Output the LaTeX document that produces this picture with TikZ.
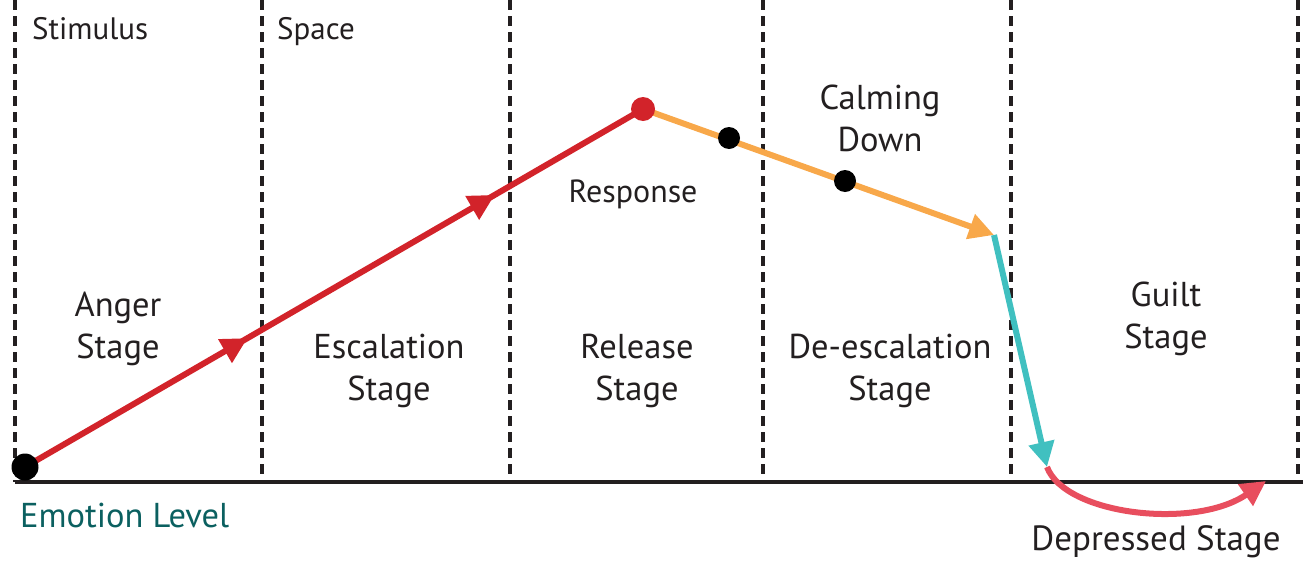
\documentclass[tikz,border=0pt]{standalone}
\usepackage{fontspec}
\setmainfont{PT Sans}
\usetikzlibrary{arrows.meta,decorations.markings}
\definecolor{cred}{HTML}{D2232A}
\definecolor{corange}{HTML}{F8A84A}
\definecolor{cteal}{HTML}{40C0C0}
\definecolor{cpink}{HTML}{E84E5E}
\definecolor{ink}{HTML}{231F20}
\definecolor{emo}{HTML}{0B6060}
\begin{document}
\begin{tikzpicture}[x=1pt,y=-1pt,
  divider/.style={dash pattern=on 10pt off 6pt, line width=3.2pt, draw=ink},
  axisline/.style={line width=3.4pt, draw=ink},
  bigtext/.style={font=\fontsize{34.5}{42}\selectfont, align=center, text=ink, inner sep=0pt},
  smalltext/.style={font=\fontsize{31}{36}\selectfont, text=ink, inner sep=0pt},
  dot/.style={circle, inner sep=0pt, minimum size=24pt},
  seg/.style={line width=6pt},
  tip/.style={-{Triangle[length=25pt,width=25pt]}},
  midtips/.style={postaction={decorate}, decoration={markings,
     mark=at position 0.36 with {\arrow{Triangle[length=26pt,width=26pt]}},
     mark=at position 0.76 with {\arrow{Triangle[length=26pt,width=26pt]}}}}
]
\useasboundingbox (0,0) rectangle (1303,560);
% dividers
\foreach \x in {15,262,510,763,1011,1298}
  \draw[divider] (\x,0) -- (\x,482);
% axis
\draw[axisline] (15,482) -- (1303,482);

% key points
\coordinate (start) at (25,467);
\coordinate (peak) at (643,109);
\coordinate (oend) at (994,235);
\coordinate (tend) at (1047,467);
\coordinate (cend) at (1266,481);

% segments
\draw[seg, cred, midtips] (start) -- (peak);
\draw[seg, corange, tip] (peak) -- (oend);
\draw[seg, cteal, tip] (oend) -- (tend);
\draw[seg, cpink, tip] (tend) .. controls (1065,515) and (1195,530) .. (cend);

% dots
\node[dot, fill=black, minimum size=27pt] (startdot) at (start) {};
\node[dot, fill=cred, minimum size=24pt] (peakdot) at (peak) {};
\node[dot, fill=black, minimum size=22pt] (d1) at (729,138) {};
\node[dot, fill=black, minimum size=22pt] (d2) at (845,181) {};

% labels
\node[smalltext, anchor=base west] (stim) at (32,39) {Stimulus};
\node[smalltext, anchor=base west] (space) at (277,39) {Space};
\node[smalltext, anchor=base, font=\fontsize{32}{36}\selectfont] (resp) at (633,202) {Response};
\node[smalltext, anchor=base west, text=emo, font=\fontsize{34.5}{40}\selectfont] (emol) at (20,527) {Emotion Level};
\node[smalltext, anchor=base, font=\fontsize{35}{40}\selectfont] (depr) at (1156,550) {Depressed Stage};

\node[bigtext, anchor=base] (anger) at (118,358) {Anger\\Stage};
\node[bigtext, anchor=base] (esc) at (389,400) {Escalation\\Stage};
\node[bigtext, anchor=base] (rel) at (637,400) {Release\\Stage};
\node[bigtext, anchor=base] (deesc) at (890,400) {De-escalation\\Stage};
\node[bigtext, anchor=base] (guilt) at (1166,348) {Guilt\\Stage};
\node[bigtext, anchor=base] (calm) at (880,151) {Calming\\Down};
\end{tikzpicture}
\end{document}
